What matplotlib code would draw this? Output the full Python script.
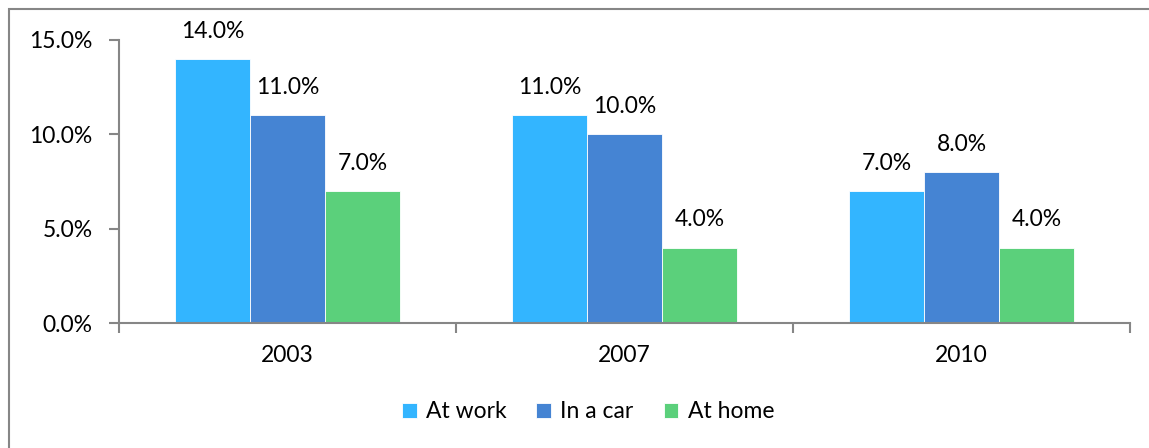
import numpy as np
import matplotlib.pyplot as plt
from matplotlib.patches import Rectangle

# data
years = ["2003", "2007", "2010"]
series = ["At work", "In a car", "At home"]
at_work = [14.0, 11.0, 7.0]
in_car = [11.0, 10.0, 8.0]
at_home = [7.0, 4.0, 4.0]
colors = ["#33B5FF", "#4584D3", "#5BD07B"]

plt.rcParams['font.family'] = ['Lato', 'DejaVu Sans']
gray = "#868686"
fs = 16.5

fig = plt.figure(figsize=(11.49, 4.48), dpi=100)
ax = fig.add_axes([119 / 1149, 1 - 323 / 448, (1130 - 119) / 1149, (323 - 40) / 448])

x = np.arange(len(years)) + 0.5
w = 0.222
for i, (vals, name) in enumerate(zip([at_work, in_car, at_home], series)):
    bars = ax.bar(x + (i - 1) * w, vals, width=w, color=colors[i], label=name,
                  edgecolor="white", linewidth=0.6)
    for b, v in zip(bars, vals):
        ax.annotate(f"{v:.1f}%", (b.get_x() + b.get_width() / 2, v),
                    xytext=(0, 20), textcoords="offset points",
                    ha="center", va="center", fontsize=fs)

ax.set_xlim(0, 3)
ax.set_ylim(0, 15)
ax.set_yticks([0, 5, 10, 15])
ax.set_yticklabels(["0.0%", "5.0%", "10.0%", "15.0%"])
ax.set_xticks([0, 1, 2, 3])
ax.set_xticklabels([])
ax.set_xticks(x, minor=True)
ax.set_xticklabels(years, minor=True)
ax.tick_params(axis="x", which="minor", length=0, pad=16, labelsize=fs)
ax.tick_params(axis="x", which="major", length=7, color=gray, width=1.5)
ax.tick_params(axis="y", length=7, color=gray, width=1.5, labelsize=fs, pad=12)

for s in ["top", "right"]:
    ax.spines[s].set_visible(False)
for s in ["left", "bottom"]:
    ax.spines[s].set_color(gray)
    ax.spines[s].set_linewidth(1.5)

fig.legend(loc="center", bbox_to_anchor=(588 / 1149, 1 - 412 / 448), ncol=3,
           frameon=False, fontsize=fs, handlelength=0.65, handleheight=0.65,
           handletextpad=0.4, columnspacing=1.3)

# outer chart border
fig.patches.append(Rectangle((9 / 1149, -0.1), 1.2, 1 - 9 / 448 + 0.1,
                             transform=fig.transFigure, fill=False,
                             edgecolor=gray, linewidth=1.5))

fig.savefig("out.png", dpi=100)
